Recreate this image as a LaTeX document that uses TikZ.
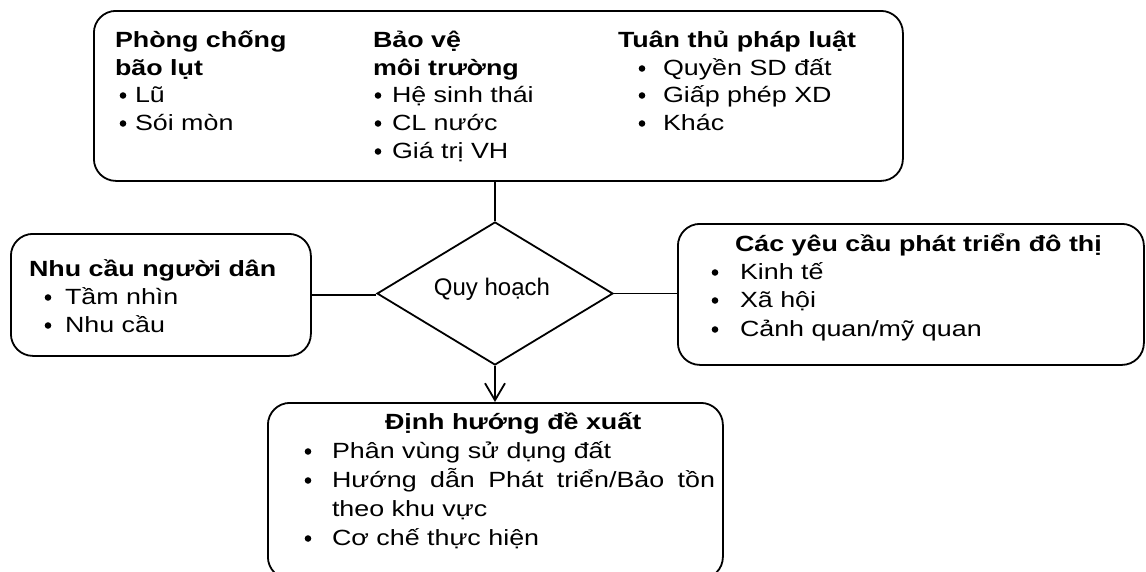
\documentclass[tikz,border=0pt]{standalone}
\usepackage{fontspec}
\setmainfont[FakeStretch=1.22]{Liberation Sans}
\newfontfamily\plainfont{Liberation Sans}
\usetikzlibrary{shapes.geometric,arrows.meta}
\begin{document}
\begin{tikzpicture}[x=1pt,y=-1pt,line width=1.8pt,
  box/.style={draw,rounded corners=22pt,inner sep=0pt,anchor=north west},
  txt/.style={anchor=base west,inner sep=0pt,outer sep=0pt,font=\fontsize{22}{26}\selectfont},
  hd/.style={txt,font=\fontsize{22}{26}\selectfont\bfseries},
  conn/.style={draw,line width=1.8pt},
  tip/.style={-{Straight Barb[length=17pt,width=20pt]}}]
\useasboundingbox (0,0) rectangle (1146,571);
\clip (0,0) rectangle (1146,571);
% boxes
\node[box,minimum width=809pt,minimum height=170pt] (top) at (93,10) {};
\node[box,minimum width=300pt,minimum height=122pt] (left) at (10,233) {};
\node[box,minimum width=466pt,minimum height=141pt] (right) at (677,223) {};
\node[box,minimum width=455pt,minimum height=176pt] (bot) at (267,402) {};
\node[draw,diamond,minimum width=236pt,minimum height=143pt,inner sep=0pt] (q) at (495,293.5) {};
\node[anchor=base west,inner sep=0pt,font=\plainfont\fontsize{24}{28}\selectfont] (qt) at (433,295) {Quy hoạch};
% connectors
\draw[conn] (q.north |- top.south) -- (q.north);
\draw[conn] (left.east) -- (left.east -| q.west);
\draw[conn] (q.east) -- (q.east -| right.west);
\draw[conn,tip] (q.south) -- (q.south |- bot.north);
% top box texts
\node[hd] (h11) at (115,47) {Phòng chống};
\node[hd] (h12) at (115,75) {bão lụt};
\node[txt] (b11) at (135,102) {Lũ};
\node[txt] (b12) at (135,130) {Sói mòn};
\node[hd] (h21) at (373,47) {Bảo vệ};
\node[hd] (h22) at (373,75) {môi trường};
\node[txt] (b21) at (392,102) {Hệ sinh thái};
\node[txt] (b22) at (392,130) {CL nước};
\node[txt] (b23) at (392,158) {Giá trị VH};
\node[hd] (h31) at (618,47) {Tuân thủ pháp luật};
\node[txt] (b31) at (663,75) {Quyền SD đất};
\node[txt] (b32) at (663,102) {Giấp phép XD};
\node[txt] (b33) at (663,130) {Khác};
% left box
\node[hd] (h41) at (29,276) {Nhu cầu người dân};
\node[txt] (b41) at (65,304) {Tầm nhìn};
\node[txt] (b42) at (65,332) {Nhu cầu};
% right box
\node[hd] (h51) at (735,251) {Các yêu cầu phát triển đô thị};
\node[txt] (b51) at (740,279) {Kinh tế};
\node[txt] (b52) at (740,307) {Xã hội};
\node[txt] (b53) at (740,336) {Cảnh quan/mỹ quan};
% bottom box
\node[hd] (h61) at (385,429) {Định hướng đề xuất};
\node[txt] (b61) at (332,458) {Phân vùng sử dụng đất};
\node[txt] (b62) at (332,487) {\makebox[383pt][s]{Hướng dẫn Phát triển/Bảo tồn}};
\node[txt] (b63) at (332,516) {theo khu vực};
\node[txt] (b64) at (332,545) {Cơ chế thực hiện};
% bullets
\foreach \n/\d in {b11/12,b12/12,b21/14,b22/14,b23/14,b31/21,b32/21,b33/21,
  b41/17,b42/17,b51/25,b52/25,b53/25,b61/24,b62/24,b64/24}
  \fill ([xshift=-\d pt,yshift=6.5pt]\n.base west) circle (3.3pt);
\end{tikzpicture}
\end{document}
